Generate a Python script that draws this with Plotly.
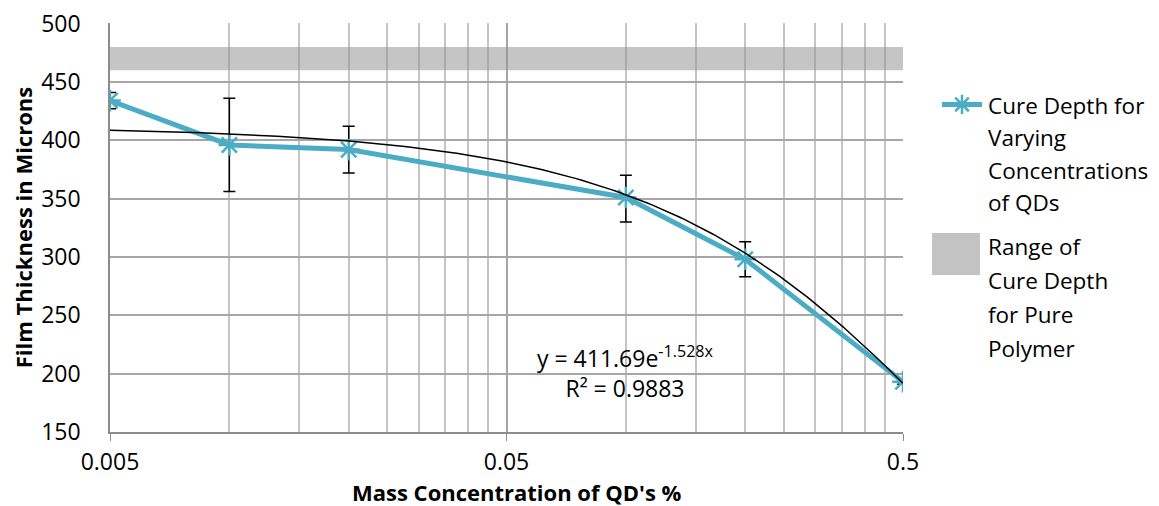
import numpy as np
import plotly.graph_objects as go

# ---- data ----
conc = [0.005, 0.01, 0.02, 0.1, 0.2, 0.5]
cure_depth = [434, 396, 392, 351, 298, 193]
err_plus = [7, 40, 20, 19, 15, 2]
err_minus = [7, 40, 20, 21, 15, 2]

pure_low, pure_high = 460, 480
x_min, x_max = 0.005, 0.5
y_min, y_max = 150, 500
trend_a, trend_b = 411.69, -1.528
r2 = 0.9883

y_ticks = [150, 200, 250, 300, 350, 400, 450, 500]
x_ticks = [0.005, 0.05, 0.5]
x_tick_text = ["0.005", "0.05", "0.5"]
minor_x = [d * k for d in (0.005, 0.05) for k in range(2, 10)]

series_legend_lines = ["Cure Depth for", "Varying", "Concentrations", "of QDs"]
band_legend_lines = ["Range of", "Cure Depth", "for Pure", "Polymer"]

FONT = "Open Sans"
BLUE = "#4bacc6"

OFF = 8  # page body margin
W, H = 1159 - OFF, 506 - OFF
L, T = 110 - OFF, 23 - OFF
R = 1159 - 903
B = 506 - 432
PW, PH = W - L - R, H - T - B


def px(xp):
    return (xp - OFF - L) / PW


def py(yp):
    return (H - B - (yp - OFF)) / PH


fig = go.Figure()

# pure polymer band
fig.add_trace(go.Scatter(
    x=[x_min, x_max, x_max, x_min, x_min],
    y=[pure_low, pure_low, pure_high, pure_high, pure_low],
    fill="toself", mode="lines", line=dict(width=0),
    fillcolor="rgba(150,150,150,0.55)", hoverinfo="skip",
    showlegend=False,
))

# data series
fig.add_trace(go.Scatter(
    x=conc, y=cure_depth, mode="lines+markers",
    name=" ",
    line=dict(color=BLUE, width=5),
    marker=dict(symbol="asterisk-open", size=18, color=BLUE,
                line=dict(color=BLUE, width=2.5)),
    error_y=dict(type="data", symmetric=False, array=err_plus,
                 arrayminus=err_minus, color="black", thickness=1.5, width=6),
))

# exponential trendline from displayed equation
xt = np.logspace(np.log10(x_min), np.log10(x_max), 200)
yt = trend_a * np.exp(trend_b * xt)
fig.add_trace(go.Scatter(
    x=xt, y=yt, mode="lines", line=dict(color="black", width=1.5),
    showlegend=False, hoverinfo="skip",
))

fig.add_annotation(
    x=np.log10(0.1), y=201, xref="x", yref="y",
    text=f"y = {trend_a}e<sup>{trend_b}x</sup><br>R² = {r2}",
    showarrow=False, xanchor="center", yanchor="middle",
    font=dict(family=FONT, size=23, color="black"),
)

LEG_FONT = dict(family=FONT, size=22.5, color="black")

# legend texts
for i, line in enumerate(series_legend_lines):
    fig.add_annotation(
        xref="paper", yref="paper", x=px(986), y=py(105 + 32.5 * i),
        xanchor="left", yanchor="middle", align="left", showarrow=False,
        text=line, font=LEG_FONT,
    )

# manual legend item for the band
fig.add_shape(type="rect", xref="paper", yref="paper",
              x0=px(932), x1=px(980), y0=py(275), y1=py(233),
              fillcolor="#c3c3c3", line=dict(width=0))
for i, line in enumerate(band_legend_lines):
    fig.add_annotation(
        xref="paper", yref="paper", x=px(986), y=py(246 + 34 * i),
        xanchor="left", yanchor="middle", align="left", showarrow=False,
        text=line, font=LEG_FONT,
    )

# x-axis title
fig.add_annotation(
    xref="paper", yref="paper", x=px(517), y=py(492),
    xanchor="center", yanchor="middle", showarrow=False,
    text="<b>Mass Concentration of QD's %</b>",
    font=dict(family=FONT, size=22, color="black"),
)

fig.update_layout(
    width=W, height=H,
    margin=dict(l=L, r=R, t=T, b=B),
    paper_bgcolor="white", plot_bgcolor="white",
    font=dict(family=FONT, size=23, color="black"),
    legend=dict(x=px(937), y=py(83),
                xanchor="left", yanchor="top", valign="top",
                font=dict(family=FONT, size=23), bgcolor="rgba(0,0,0,0)",
                itemwidth=40, tracegroupgap=0),
    xaxis=dict(
        type="log", range=[np.log10(x_min), np.log10(x_max)],
        automargin=False, ticklabeloverflow="allow",
        tickvals=x_ticks, ticktext=x_tick_text,
        ticks="outside", ticklen=7, tickcolor="#8c8c8c",
        ticklabelstandoff=2,
        showgrid=True, gridcolor="#a6a6a6", gridwidth=1.5,
        minor=dict(tickvals=minor_x, showgrid=True, gridcolor="#c4c4c4",
                   gridwidth=1.5, ticks=""),
        showline=True, linecolor="#8c8c8c", linewidth=1.5,
        zeroline=False,
        tickfont=dict(family=FONT, size=23),
    ),
    yaxis=dict(
        range=[y_min, y_max + 0.5], tickvals=y_ticks, automargin=False,
        ticklabeloverflow="allow",
        ticks="outside", ticklen=0, ticklabelstandoff=23,
        showgrid=True, gridcolor="#a6a6a6", gridwidth=1.5,
        showline=True, linecolor="#8c8c8c", linewidth=1.5,
        zeroline=False,
        title=dict(text="<b>Film Thickness in Microns</b>",
                   font=dict(family=FONT, size=22), standoff=8),
        tickfont=dict(family=FONT, size=23),
    ),
)

fig.write_html("out.html")
